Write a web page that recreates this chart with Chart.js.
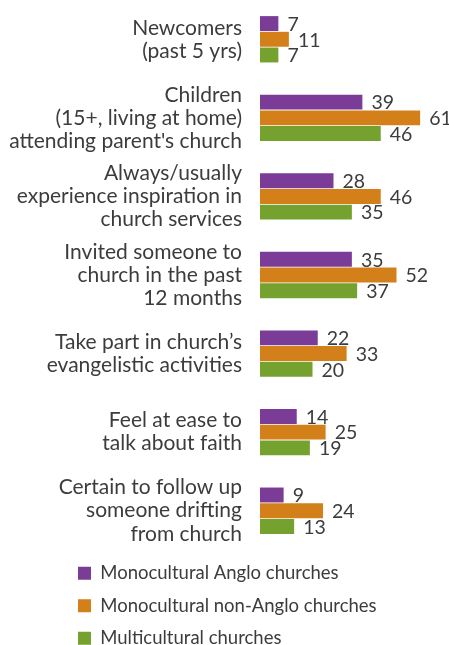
<!DOCTYPE html>
<html>
<head>
<meta charset="utf-8">
<script src="https://cdn.jsdelivr.net/npm/chart.js@4.4.0/dist/chart.umd.min.js"></script>
<style>
html, body { margin: 0; padding: 0; background: #ffffff; }
#wrap { position: relative; width: 449px; height: 645px; }
</style>
</head>
<body>
<div id="wrap"><canvas id="c"></canvas></div>
<script>
const categories = [
  ["Newcomers", "(past 5 yrs)"],
  ["Children", "(15+, living at home)", "attending parent's church"],
  ["Always/usually", "experience inspiration in", "church services"],
  ["Invited someone to", "church in the past", "12 months"],
  ["Take part in church\u2019s", "evangelistic activities"],
  ["Feel at ease to", "talk about faith"],
  ["Certain to follow up", "someone drifting", "from church"]
];
const seriesNames = ["Monocultural Anglo churches", "Monocultural non-Anglo churches", "Multicultural churches"];
const angloValues = [7, 39, 28, 35, 22, 14, 9];
const nonAngloValues = [11, 61, 46, 52, 33, 25, 24];
const multiValues = [7, 46, 35, 37, 20, 19, 13];
const seriesColors = ["#7b3c97", "#d4801a", "#75a22f"];

const textColor = "#3c3c3c";
const fontFamily = "Lato, 'Open Sans', sans-serif";

const valueLabels = {
  id: 'valueLabels',
  afterDatasetsDraw(chart) {
    const ctx = chart.ctx;
    ctx.save();
    ctx.font = "19.5px " + fontFamily;
    ctx.fillStyle = textColor;
    ctx.textAlign = "left";
    ctx.textBaseline = "middle";
    chart.data.datasets.forEach((ds, di) => {
      const meta = chart.getDatasetMeta(di);
      meta.data.forEach((bar, i) => {
        ctx.fillText(String(ds.data[i]), bar.x + 9, bar.y + 1);
      });
    });
    ctx.restore();
  }
};

const legendShift = {
  id: 'legendShift',
  afterLayout(chart) {
    if (chart.legend) {
      chart.legend.left += 64;
    }
  }
};

new Chart(document.getElementById('c'), {
  type: 'bar',
  data: {
    labels: categories,
    datasets: [
      { label: seriesNames[0], data: angloValues, backgroundColor: seriesColors[0] },
      { label: seriesNames[1], data: nonAngloValues, backgroundColor: seriesColors[1] },
      { label: seriesNames[2], data: multiValues, backgroundColor: seriesColors[2] }
    ]
  },
  options: {
    indexAxis: 'y',
    responsive: true,
    maintainAspectRatio: false,
    animation: false,
    layout: { padding: { top: 0, right: 0, bottom: 0, left: 0 } },
    datasets: {
      bar: { categoryPercentage: 0.6, barPercentage: 0.95, borderWidth: 0 }
    },
    scales: {
      x: {
        min: 0,
        max: 72,
        display: false,
        grid: { display: false }
      },
      y: {
        grid: { display: false, drawTicks: false },
        border: { display: false },
        ticks: {
          color: textColor,
          font: { family: fontFamily, size: 21, lineHeight: 1.1 },
          padding: 18
        },
        afterFit(scale) {
          scale.width = 260;
          scale.paddingTop = 0;
          scale.paddingBottom = 0;
        }
      }
    },
    plugins: {
      tooltip: { enabled: false },
      legend: {
        position: 'bottom',
        align: 'start',
        maxHeight: 95,
        labels: {
          color: textColor,
          font: { family: fontFamily, size: 18.5 },
          boxWidth: 13,
          boxHeight: 13,
          padding: 14
        }
      }
    }
  },
  plugins: [valueLabels, legendShift]
});
</script>
</body>
</html>
